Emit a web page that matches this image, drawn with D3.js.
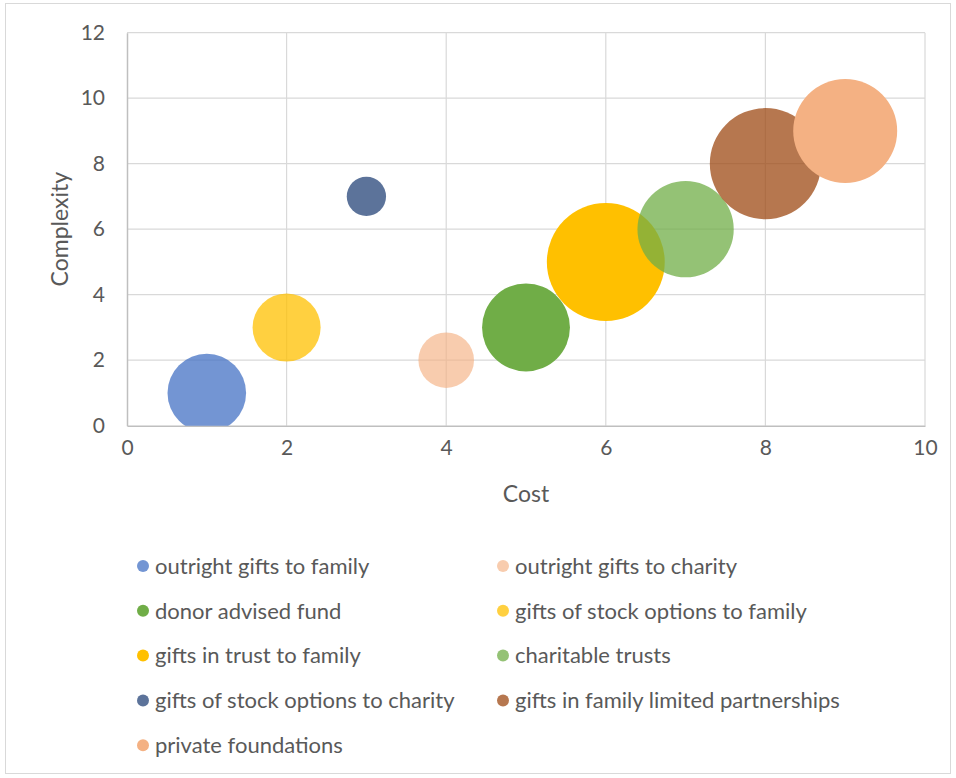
<!DOCTYPE html>
<html>
<head>
<meta charset="utf-8">
<script src="https://cdn.jsdelivr.net/npm/d3@7/dist/d3.min.js"></script>
<style>
  html, body { margin: 0; padding: 0; background: #ffffff; }
  svg { display: block; font-family: Lato, "Open Sans", sans-serif; }
</style>
</head>
<body>
<svg id="chart" width="956" height="778"></svg>
<script>
// Gift strategies: cost vs. complexity, bubble area = relative size
const names = [
  "outright gifts to family",
  "gifts of stock options to family",
  "gifts of stock options to charity",
  "outright gifts to charity",
  "donor advised fund",
  "gifts in trust to family",
  "charitable trusts",
  "gifts in family limited partnerships",
  "private foundations"
];
const cost = [1, 2, 3, 4, 5, 6, 7, 8, 9];
const complexity = [1, 3, 7, 2, 3, 5, 6, 8, 9];
const bubbleSize = [4, 3, 1, 2, 5, 9, 6, 8, 7];

// Legend order (two columns, row by row)
const legendOrder = [
  "outright gifts to family", "outright gifts to charity",
  "donor advised fund", "gifts of stock options to family",
  "gifts in trust to family", "charitable trusts",
  "gifts of stock options to charity", "gifts in family limited partnerships",
  "private foundations"
];

const xTicks = [0, 2, 4, 6, 8, 10];
const yTicks = [0, 2, 4, 6, 8, 10, 12];

// Fill colour and opacity per series
const fills = ["#4472c4", "#ffc000", "#264478", "#f4b183", "#70ad47", "#ffc000", "#70ad47", "#9e4a14", "#f4b183"];
const opacities = [0.75, 0.75, 0.75, 0.65, 1, 1, 0.75, 0.75, 1];

const svg = d3.select("#chart");
const plot = { left: 127, right: 925, top: 32.7, bottom: 425.7 };
const textColor = "#595959";

// Outer chart frame
svg.append("rect")
  .attr("x", 5.5).attr("y", 3.5)
  .attr("width", 945).attr("height", 770)
  .attr("fill", "#ffffff")
  .attr("stroke", "#d9d9d9").attr("stroke-width", 1);

const x = d3.scaleLinear().domain([0, 10]).range([plot.left, plot.right]);
const y = d3.scaleLinear().domain([0, 12]).range([plot.bottom, plot.top]);
const r = d3.scaleSqrt().domain([0, d3.max(bubbleSize)]).range([0, (plot.bottom - plot.top) * 0.15]);

// Gridlines
const grid = svg.append("g").attr("stroke", "#d9d9d9").attr("stroke-width", 1.2);
grid.selectAll("line.v").data(xTicks.slice(1)).join("line")
  .attr("x1", d => x(d)).attr("x2", d => x(d))
  .attr("y1", plot.top).attr("y2", plot.bottom);
grid.selectAll("line.h").data(yTicks.slice(1)).join("line")
  .attr("x1", plot.left).attr("x2", plot.right)
  .attr("y1", d => y(d)).attr("y2", d => y(d));

// Axes
const xAxis = d3.axisBottom(x).tickValues(xTicks).tickSize(0).tickPadding(14);
const yAxis = d3.axisLeft(y).tickValues(yTicks).tickSize(0).tickPadding(22);

const gx = svg.append("g").attr("transform", `translate(0,${plot.bottom})`).call(xAxis);
const gy = svg.append("g").attr("transform", `translate(${plot.left},0)`).call(yAxis);
[gx, gy].forEach(g => {
  g.select(".domain").attr("stroke", "#bfbfbf").attr("stroke-width", 1.5);
  g.selectAll("text").attr("fill", textColor).attr("font-size", 21)
    .attr("font-family", "Lato, 'Open Sans', sans-serif");
});

// Bubbles, clipped to the plot area
svg.append("clipPath").attr("id", "plotClip")
  .append("rect")
  .attr("x", plot.left).attr("y", plot.top)
  .attr("width", plot.right - plot.left).attr("height", plot.bottom - plot.top);

const series = names.map((n, i) => ({ name: n, cx: cost[i], cy: complexity[i], s: bubbleSize[i], i }));

svg.append("g").attr("clip-path", "url(#plotClip)")
  .selectAll("circle").data(series).join("circle")
  .attr("cx", d => x(d.cx))
  .attr("cy", d => y(d.cy))
  .attr("r", d => r(d.s))
  .attr("fill", d => fills[d.i])
  .attr("fill-opacity", d => opacities[d.i]);

// Axis titles
svg.append("text")
  .attr("x", (plot.left + plot.right) / 2).attr("y", 502)
  .attr("text-anchor", "middle")
  .attr("fill", textColor).attr("font-size", 23)
  .text("Cost");

svg.append("text")
  .attr("transform", `translate(68,${(plot.top + plot.bottom) / 2}) rotate(-90)`)
  .attr("text-anchor", "middle")
  .attr("fill", textColor).attr("font-size", 23)
  .text("Complexity");

// Legend
const legendCols = [143, 503];
const legendRow0 = 566, legendRowStep = 44.8;
const legend = svg.append("g");
const items = legend.selectAll("g").data(legendOrder).join("g")
  .attr("transform", (d, k) => `translate(${legendCols[k % 2]},${legendRow0 + Math.floor(k / 2) * legendRowStep})`);
items.append("circle")
  .attr("r", 6)
  .attr("fill", d => fills[names.indexOf(d)])
  .attr("fill-opacity", d => opacities[names.indexOf(d)]);
items.append("text")
  .attr("x", 12).attr("dy", "0.35em")
  .attr("fill", textColor).attr("font-size", 22)
  .text(d => d);
</script>
</body>
</html>
